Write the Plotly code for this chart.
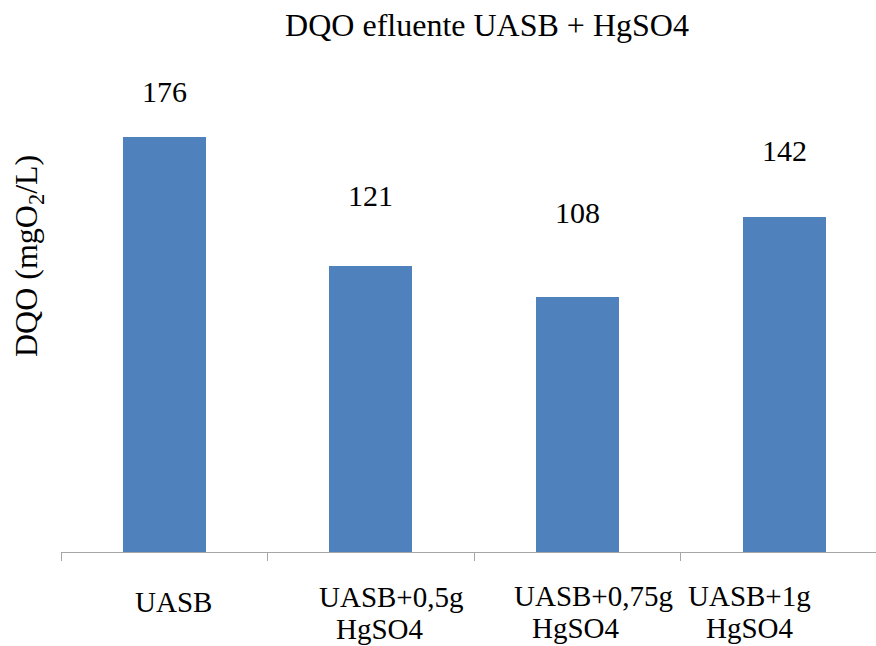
import plotly.graph_objects as go

# Chart data
categories = ["UASB", "UASB+0,5g\nHgSO4", "UASB+0,75g\nHgSO4", "UASB+1g\nHgSO4"]
dqo = [176, 121, 108, 142]

chart_title = "DQO efluente UASB + HgSO4"
y_title = "DQO (mgO<sub>2</sub>/L)"

# Layout constants (pixels)
W, H = 876, 646
M_L, M_R, M_T, M_B = 61, 0, 80, 94
PLOT_W = W - M_L - M_R
PLOT_H = H - M_T - M_B
CAT_PX = 206.6                                        # width of one category slot
label_gap = [45, 71, 85, 66]                          # bar top -> value label centre
tick_line_dy = [[50], [45, 77], [44, 76], [44, 76]]   # axis line -> tick text centre
tick_line_dx = [[9], [20, 9], [16, -2], [-35, -34]]   # horizontal nudge per line

FONT = "Liberation Serif"
BAR = "#4F81BD"
AXIS = "#A6A6A6"

fig = go.Figure(
    go.Bar(
        x=list(range(len(categories))),
        y=dqo,
        width=0.402,
        marker=dict(color=BAR, line=dict(width=0)),
        hoverinfo="skip",
    )
)

annotations = []
# value labels above the bars
for i, (val, gap) in enumerate(zip(dqo, label_gap)):
    annotations.append(dict(
        x=(i + 0.5) * CAT_PX / PLOT_W, y=val / 200, xref="paper", yref="paper",
        text=str(val), showarrow=False,
        yanchor="middle", xanchor="center", yshift=gap,
        font=dict(family=FONT, size=30, color="black"),
    ))

# category labels, one annotation per text line
for i, (cat, dys, dxs) in enumerate(zip(categories, tick_line_dy, tick_line_dx)):
    for line, dy, dx in zip(cat.split("\n"), dys, dxs):
        annotations.append(dict(
            x=(i + 0.5) * CAT_PX / PLOT_W, y=0, xref="paper", yref="paper",
            text=line, showarrow=False,
            yanchor="middle", xanchor="center", yshift=-dy, xshift=dx,
            font=dict(family=FONT, size=29, color="black"),
        ))

# vertical axis title
annotations.append(dict(
    x=(28 - M_L) / PLOT_W, y=(H - M_B - 256) / PLOT_H,
    xref="paper", yref="paper", text=y_title, showarrow=False, textangle=-90,
    xanchor="center", yanchor="middle",
    font=dict(family=FONT, size=32, color="black"),
))

fig.update_layout(
    width=W, height=H,
    margin=dict(l=M_L, r=M_R, t=M_T, b=M_B, pad=0),
    paper_bgcolor="white", plot_bgcolor="white",
    font=dict(family=FONT, color="black"),
    showlegend=False,
    title=dict(
        text=chart_title, x=487 / W, xanchor="center", xref="container",
        y=1 - 25 / H, yanchor="middle", yref="container",
        font=dict(family=FONT, size=32, color="black"),
    ),
    annotations=annotations,
    bargap=0,
)

fig.update_xaxes(
    range=[-0.5, -0.5 + PLOT_W / CAT_PX],
    tickmode="array", tickvals=[i - 0.5 for i in range(len(categories))],
    showticklabels=False, showgrid=False, zeroline=False,
    showline=True, linecolor=AXIS, linewidth=1,
    ticks="outside", ticklen=8, tickcolor=AXIS, tickwidth=1,
)
fig.update_yaxes(
    range=[0, 200], showticklabels=False, showgrid=False, zeroline=False,
    showline=False, ticks="",
)

fig.write_html("out.html")
